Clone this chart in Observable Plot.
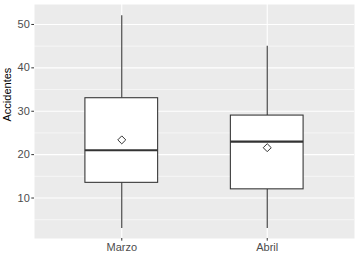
<!DOCTYPE html>
<html><head><meta charset="utf-8">
<script src="https://cdn.jsdelivr.net/npm/d3@7"></script>
<script src="https://cdn.jsdelivr.net/npm/@observablehq/plot@0.6"></script>
<style>html,body{margin:0;padding:0;background:#fff}</style>
</head><body><div id="chart"></div>
<script>
const categories = ["Marzo", "Abril"];
const lower = [3, 3];
const q1 = [13.5, 12];
const median = [21, 23];
const q3 = [33, 29];
const upper = [52, 45];
const mean = [23.4, 21.6];
const yTicks = [10, 20, 30, 40, 50];
const yMinor = [5, 15, 25, 35, 45];
const yLabel = "Accidentes";

const rows = categories.map((c, i) => ({c, pos: i + 1, lo: lower[i], q1: q1[i], med: median[i], q3: q3[i], hi: upper[i], mean: mean[i]}));
const pos = categories.map((c, i) => i + 1);

const chart = Plot.plot({
  width: 359, height: 253,
  marginTop: 4, marginRight: 5, marginBottom: 15, marginLeft: 34,
  style: {fontFamily: "'Liberation Sans', Arial, sans-serif", background: "#fff"},
  x: {type: "linear", domain: [0.4, 2.6], axis: null},
  y: {domain: [0.67, 54.6], axis: null},
  marks: [
    Plot.frame({fill: "#EBEBEB", stroke: null}),
    Plot.ruleY(yMinor, {stroke: "#fff", strokeWidth: 0.55}),
    Plot.ruleY(yTicks, {stroke: "#fff", strokeWidth: 1.1}),
    Plot.ruleX(pos, {stroke: "#fff", strokeWidth: 1.1}),
    Plot.ruleX(rows, {x: "pos", y1: "q3", y2: "hi", stroke: "#333333", strokeWidth: 1.07}),
    Plot.ruleX(rows, {x: "pos", y1: "q1", y2: "lo", stroke: "#333333", strokeWidth: 1.07}),
    Plot.rect(rows, {x1: d => d.pos - 0.25, x2: d => d.pos + 0.25, y1: "q1", y2: "q3", fill: "white", stroke: "#333333", strokeWidth: 1.07}),
    Plot.ruleY(rows, {y: "med", x1: d => d.pos - 0.25, x2: d => d.pos + 0.25, stroke: "#333333", strokeWidth: 2.1}),
    Plot.dot(rows, {x: "pos", y: "mean", symbol: "diamond2", r: 3.6, stroke: "#333333", fill: "none", strokeWidth: 1}),
    Plot.axisY(yTicks, {tickSize: 2.7, tickPadding: 2, stroke: "#333333", fill: "#4D4D4D", fontSize: 11, label: null}),
    Plot.axisX(pos, {tickSize: 2.7, tickPadding: 1.5, stroke: "#333333", fill: "#4D4D4D", fontSize: 11, label: null, tickFormat: d => categories[d - 1]}),
    Plot.text([yLabel], {text: d => d, frameAnchor: "left", dx: -27.5, rotate: -90, fontSize: 11, fill: "#000"})
  ]
});
document.getElementById("chart").appendChild(chart);
</script>
</body></html>
